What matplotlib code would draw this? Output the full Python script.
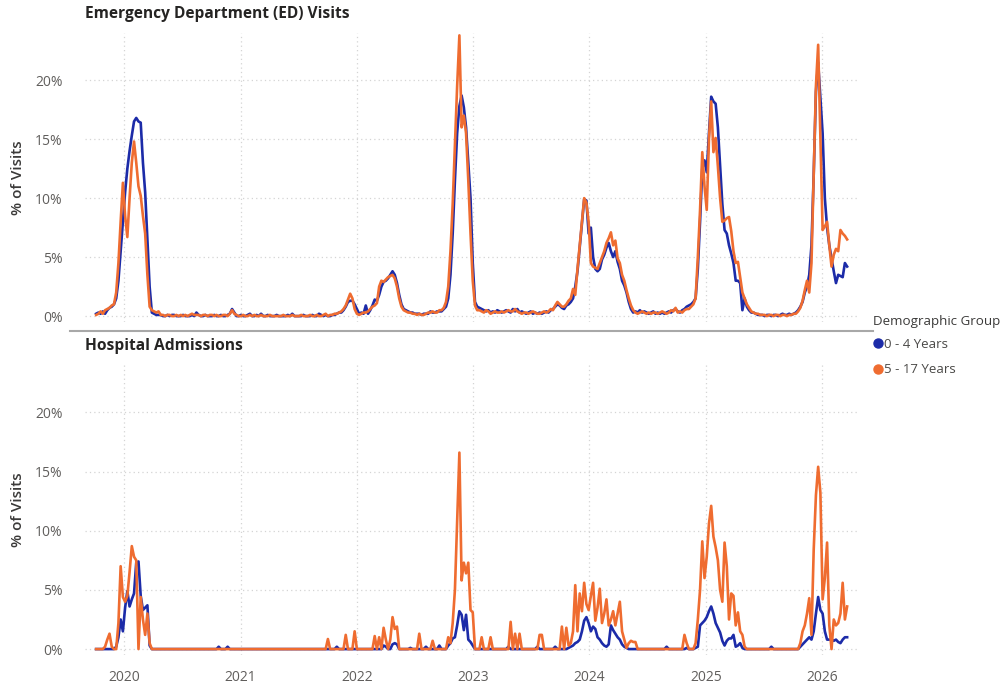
import matplotlib
matplotlib.use("Agg")
import matplotlib.pyplot as plt
from matplotlib.lines import Line2D
import pandas as pd

plt.rcParams['font.family'] = ['Open Sans', 'DejaVu Sans']

# ---------------- data (weekly, % of visits) ----------------
FIRST_WEEK = "2019-10-05"
years = [2020, 2021, 2022, 2023, 2024, 2025, 2026]
y_ticks = [0, 5, 10, 15, 20]
y_tick_labels = ["0%", "5%", "10%", "15%", "20%"]
groups = ["0 - 4 Years", "5 - 17 Years"]

ed_0_4 = [
    0.2, 0.3, 0.2, 0.4, 0.2, 0.5, 0.7, 0.8, 1.0, 1.5, 3.0, 5.5, 8.0, 10.5, 12.5, 14.0, 15.3, 16.5, 16.8, 16.5, 16.4, 13.0, 10.5, 6.5, 2.5, 0.3,
    0.2, 0.1, 0.1, 0.1, 0.0, 0.0, 0.1, 0.0, 0.1, 0.1, 0.0, 0.0, 0.0, 0.1, 0.0, 0.0, 0.0, 0.1, 0.0, 0.3, 0.1, 0.0, 0.0, 0.1, 0.0, 0.0,
    0.0, 0.1, 0.0, 0.0, 0.1, 0.0, 0.0, 0.1, 0.2, 0.6, 0.3, 0.0, 0.0, 0.1, 0.0, 0.0, 0.1, 0.2, 0.0, 0.0, 0.1, 0.0,
    0.2, 0.0, 0.0, 0.1, 0.0, 0.0, 0.0, 0.1, 0.0, 0.0, 0.0, 0.0, 0.1, 0.0, 0.2, 0.0, 0.0, 0.0, 0.0, 0.1,
    0.0, 0.0, 0.0, 0.1, 0.0, 0.0, 0.2, 0.1, 0.0, 0.1,
    0.0, 0.0, 0.1, 0.1, 0.2, 0.3, 0.3, 0.5, 0.8, 1.2, 1.3, 1.3, 1.0, 0.6, 0.2, 0.3, 0.2, 0.9, 0.2, 0.5,
    0.9, 1.4, 1.3, 1.8, 2.5, 2.9, 3.0, 3.2, 3.5, 3.8, 3.5, 2.8, 1.8, 1.0, 0.6, 0.5, 0.4, 0.3, 0.3, 0.2,
    0.2, 0.2, 0.1, 0.2, 0.2, 0.2, 0.4, 0.3, 0.3, 0.4, 0.4, 0.4,
    0.6, 0.8, 1.5, 3.5, 7.0, 11.5, 15.5, 17.8, 18.7, 17.7, 16.0, 13.0, 10.0, 4.5, 1.2, 0.8,
    0.7, 0.6, 0.5, 0.4, 0.5, 0.3, 0.4, 0.3, 0.5, 0.4, 0.3, 0.4, 0.5, 0.4, 0.3, 0.6, 0.4, 0.6, 0.3, 0.4,
    0.3, 0.2, 0.3, 0.4, 0.2, 0.3, 0.2, 0.3, 0.2, 0.3, 0.4, 0.3, 0.5, 0.6, 0.8, 1.0,
    0.9, 0.7, 0.6, 0.9, 1.0, 1.2, 1.5, 2.5, 3.8, 5.8, 7.8, 9.9, 9.8, 7.0, 7.5, 5.0, 4.0, 3.8, 4.0, 4.8,
    5.2, 5.8, 6.2, 5.5, 5.0, 5.5, 4.6, 4.0, 3.0, 2.6, 2.0, 1.2, 0.6, 0.3,
    0.4, 0.3, 0.5, 0.3, 0.4, 0.3, 0.2, 0.3, 0.4, 0.2, 0.3, 0.2, 0.3, 0.2, 0.3, 0.4, 0.3, 0.5, 0.6,
    0.4, 0.3, 0.5, 0.6, 0.8, 0.9, 1.0, 1.2, 1.5, 4.0,
    8.0, 12.5, 13.2, 12.2, 15.5, 18.6, 18.2, 18.0, 16.0, 12.7, 9.5, 7.3, 7.0, 6.0, 5.3, 4.5, 3.0, 3.0, 2.8, 0.5,
    1.5, 0.8, 0.5, 0.3,
    0.3, 0.2, 0.1, 0.1, 0.1, 0.0, 0.1, 0.1, 0.0, 0.1, 0.1, 0.0, 0.1, 0.2, 0.1, 0.1, 0.2, 0.1, 0.2,
    0.3, 0.5, 0.8, 1.2, 2.0, 2.5, 3.5, 6.0, 12.0, 19.0, 21.5, 18.5, 15.5, 10.0, 7.5, 6.0, 4.9, 3.8, 2.8, 3.5,
    3.4, 3.3, 4.5, 4.2,
]

ed_5_17 = [
    0.1, 0.2, 0.4, 0.2, 0.5, 0.6, 0.7, 0.9, 1.0, 2.0, 4.5, 8.0, 11.3, 8.5, 6.7, 10.0, 13.0, 14.8, 13.0, 11.0, 10.2, 8.5, 7.0, 3.5, 0.8, 0.5,
    0.4, 0.3, 0.4, 0.1, 0.1, 0.0, 0.1, 0.1, 0.0, 0.0, 0.1, 0.0, 0.1, 0.0, 0.1, 0.0, 0.1, 0.2, 0.1, 0.1, 0.1, 0.0, 0.1, 0.1, 0.0, 0.1,
    0.1, 0.0, 0.1, 0.0, 0.0, 0.1, 0.1, 0.0, 0.2, 0.5, 0.2, 0.1, 0.0, 0.0, 0.1, 0.0, 0.0, 0.1, 0.0, 0.1, 0.0, 0.0,
    0.1, 0.0, 0.0, 0.0, 0.1, 0.0, 0.0, 0.0, 0.0, 0.0, 0.1, 0.0, 0.0, 0.0, 0.1, 0.0, 0.0, 0.0, 0.1, 0.0,
    0.0, 0.0, 0.1, 0.0, 0.0, 0.1, 0.0, 0.0, 0.1, 0.2,
    0.0, 0.1, 0.1, 0.2, 0.2, 0.3, 0.4, 0.6, 0.9, 1.4, 1.9, 1.5, 0.6, 0.2, 0.1, 0.2, 0.3, 0.3, 0.4, 0.6,
    0.8, 0.9, 1.1, 2.5, 3.0, 2.9, 3.1, 3.3, 3.4, 3.5, 3.2, 2.5, 1.5, 0.8, 0.5, 0.4, 0.3, 0.3, 0.2, 0.2,
    0.1, 0.2, 0.1, 0.1, 0.2, 0.3, 0.3, 0.4, 0.3, 0.3, 0.5, 0.5,
    0.7, 1.2, 2.5, 5.5, 9.5, 14.5, 19.5, 23.8, 16.0, 17.0, 15.5, 11.5, 7.0, 3.0, 0.9, 0.5,
    0.5, 0.4, 0.3, 0.5, 0.4, 0.2, 0.3, 0.4, 0.3, 0.3, 0.4, 0.3, 0.4, 0.5, 0.4, 0.4, 0.6, 0.4, 0.3, 0.2,
    0.3, 0.3, 0.2, 0.3, 0.4, 0.3, 0.2, 0.2, 0.3, 0.4, 0.3, 0.4, 0.6, 0.5, 0.9, 1.2,
    1.0, 0.8, 0.8, 1.0, 1.3, 1.5, 2.3, 1.8, 4.0, 6.0, 8.0, 10.0, 9.6, 8.0, 4.5, 4.2, 4.1, 4.0, 4.5, 5.0,
    5.5, 6.2, 6.6, 7.1, 6.0, 6.4, 4.9, 4.5, 3.5, 3.0, 2.2, 1.5, 0.9, 0.5,
    0.3, 0.2, 0.3, 0.4, 0.3, 0.2, 0.3, 0.2, 0.3, 0.3, 0.2, 0.3, 0.4, 0.3, 0.2, 0.3, 0.5, 0.4, 0.7,
    0.3, 0.4, 0.3, 0.5, 0.6, 0.6, 0.8, 1.0, 1.5, 5.0,
    9.0, 13.9, 11.0, 9.0, 15.0, 18.2, 13.9, 15.1, 12.7, 10.0, 8.0, 8.1, 8.3, 8.4, 7.2, 5.5, 4.5, 4.6, 3.3, 2.0,
    1.5, 1.0, 0.7, 0.4,
    0.3, 0.2, 0.2, 0.1, 0.1, 0.1, 0.0, 0.1, 0.1, 0.0, 0.1, 0.1, 0.0, 0.1, 0.1, 0.0, 0.1, 0.1, 0.2,
    0.2, 0.4, 0.7, 1.3, 2.2, 3.0, 2.0, 4.5, 12.0, 19.5, 23.0, 15.0, 7.3, 7.6, 8.0, 6.0, 4.2, 5.2, 5.7, 5.5,
    7.3, 7.0, 6.8, 6.5,
]

ha_0_4 = [
    0, 0, 0, 0, 0, 0, 0, 0, 0, 0.2, 1.0, 2.5, 1.5, 3.5, 4.9, 3.6, 4.2, 4.7, 7.3, 7.4, 4.5, 3.3, 3.5, 3.7, 0.3, 0,
    0, 0, 0, 0, 0, 0, 0, 0, 0, 0, 0, 0, 0, 0, 0, 0, 0, 0, 0, 0, 0, 0, 0, 0, 0, 0,
    0, 0, 0, 0.2, 0, 0, 0, 0.2, 0, 0, 0, 0, 0, 0, 0, 0, 0, 0, 0, 0, 0, 0,
    0, 0, 0, 0, 0, 0, 0, 0, 0, 0, 0, 0, 0, 0, 0, 0, 0, 0, 0, 0,
    0, 0, 0, 0, 0, 0, 0, 0, 0, 0,
    0, 0, 0, 0, 0.2, 0, 0, 0, 0, 0, 0, 0, 0, 0, 0, 0, 0, 0, 0, 0,
    0, 0, 0, 0, 0, 0.3, 0.2, 0, 0, 0.4, 0.5, 0.4, 0, 0, 0, 0, 0, 0.1, 0, 0,
    0, 0, 0, 0, 0.2, 0, 0, 0, 0, 0, 0.3, 0,
    0, 0, 0.3, 0.5, 0.9, 1.0, 2.0, 3.2, 2.9, 1.6, 2.9, 0.8, 0.6, 0.3, 0, 0,
    0, 0, 0, 0, 0, 0, 0, 0, 0, 0, 0, 0, 0, 0.2, 0, 0, 0, 0, 0, 0,
    0, 0, 0, 0, 0, 0, 0.2, 0, 0, 0, 0, 0, 0, 0, 0.2, 0,
    0, 0, 0, 0, 0.1, 0.2, 0.3, 0.5, 0.6, 0.8, 1.5, 2.4, 2.7, 2.2, 1.5, 1.9, 1.7, 1.0, 0.8, 0.5,
    0.3, 0.2, 0.4, 2.0, 1.6, 1.3, 1.0, 0.8, 0.4, 0.2, 0.1, 0, 0, 0, 0, 0,
    0, 0, 0, 0, 0, 0, 0, 0, 0, 0, 0, 0, 0.2, 0, 0, 0, 0,
    0, 0, 0, 0, 0.1, 0, 0,
    0, 0.1, 0.2, 2.0, 2.2, 2.4, 2.7, 3.2, 3.6, 3.0, 2.2, 1.8, 1.4, 0.7, 0.3, 0.7, 0.9, 0.9, 1.2, 0.2,
    0.3, 0.5, 0.1, 0, 0,
    0, 0, 0, 0, 0, 0, 0, 0, 0, 0, 0.2, 0, 0, 0, 0, 0, 0, 0, 0, 0, 0,
    0, 0, 0.2, 0.4, 0.6, 0.8, 1.0, 0.8, 1.5, 3.0, 4.4, 3.3, 3.0, 1.5, 0.8, 0.8, 0.8, 0.7, 0.8, 0.6,
    0.5, 0.8, 1.0, 1.0,
]

ha_5_17 = [
    0, 0, 0, 0, 0.2, 0.8, 1.3, 0.2, 0, 0, 2.2, 7.0, 4.4, 4.0, 4.5, 6.5, 8.7, 7.8, 7.5, 0.0, 4.4, 2.5, 1.2, 3.0, 0.5, 0,
    0, 0, 0, 0, 0, 0, 0, 0, 0, 0, 0, 0, 0, 0, 0, 0, 0, 0, 0, 0, 0, 0, 0, 0, 0, 0,
    0, 0, 0, 0, 0, 0, 0, 0, 0, 0, 0, 0, 0, 0, 0, 0, 0, 0, 0, 0, 0, 0,
    0, 0, 0, 0, 0, 0, 0, 0, 0, 0, 0, 0, 0, 0, 0, 0, 0, 0, 0, 0,
    0, 0, 0, 0, 0, 0, 0, 0, 0, 0,
    0.85, 0, 0, 0, 0, 0, 0, 0, 1.2, 0, 0, 0, 1.5, 0, 0, 0, 0, 0, 0, 0,
    0, 1.1, 0, 1.0, 0, 1.8, 0.8, 0, 0.8, 2.7, 1.7, 1.9, 0, 0, 0, 0, 0, 0, 0, 0,
    0, 1.3, 0, 0, 0, 0, 0, 0.7, 0, 0, 0, 0,
    0, 0, 1.0, 0.5, 2.2, 5.0, 10.7, 16.6, 5.8, 7.3, 6.4, 7.3, 3.3, 3.1, 0, 0,
    0, 1.0, 0, 0, 0, 1.0, 0, 0, 0, 0, 0, 0, 0, 0, 2.3, 0, 1.3, 0, 1.3, 0,
    0, 0, 0, 0, 0, 0, 0, 1.2, 1.2, 0, 0, 0, 0, 0, 0, 0,
    0, 1.9, 0, 1.8, 0.3, 0.5, 1.5, 5.4, 1.5, 4.7, 3.2, 5.6, 3.8, 3.3, 4.5, 5.6, 2.4, 3.5, 5.1, 2.2,
    3.0, 4.2, 2.0, 2.5, 3.2, 2.0, 3.0, 4.0, 1.5, 0.8, 0.1, 0.5, 0.7, 0.6, 0.6, 0,
    0, 0, 0, 0, 0, 0, 0, 0, 0, 0, 0, 0, 0, 0, 0, 0, 0,
    0, 0, 0, 1.2, 0.5, 0, 0,
    0, 0.5, 2.5, 5.0, 9.1, 6.0, 7.8, 10.6, 12.1, 9.5, 8.6, 7.5, 5.0, 4.0, 9.0, 7.0, 2.5, 4.7, 4.5, 2.0,
    3.1, 1.5, 1.2, 0.2, 0,
    0, 0, 0, 0, 0, 0, 0, 0, 0, 0, 0, 0, 0, 0, 0, 0, 0, 0, 0, 0, 0,
    0, 0, 0.5, 1.5, 2.0, 3.0, 4.3, 1.2, 8.4, 13.0, 15.4, 13.2, 4.2, 6.0, 9.0, 2.0, 0.0, 2.5, 2.0, 2.2,
    3.0, 5.6, 2.5, 3.6,
]

# ---------------- styling ----------------
BLUE = "#1C2BA8"
ORANGE = "#EF6C30"
GRID = "#D4D4D4"
TICK = "#605E5C"
W, H = 1008, 685

weeks = pd.date_range(FIRST_WEEK, periods=len(ed_0_4), freq="7D")

fig = plt.figure(figsize=(W / 100, H / 100), dpi=100)
ax_top = fig.add_axes([85 / W, 1 - 322 / H, 772 / W, 289 / H])
ax_bot = fig.add_axes([85 / W, 1 - 655 / H, 772 / W, 290 / H])

panels = [
    (ax_top, ed_0_4, ed_5_17, "Emergency Department (ED) Visits", 14),
    (ax_bot, ha_0_4, ha_5_17, "Hospital Admissions", 346),
]

for ax, s_young, s_old, title, title_y in panels:
    ax.plot(weeks, s_young, color=BLUE, lw=1.9, solid_joinstyle="round", zorder=3)
    ax.plot(weeks, s_old, color=ORANGE, lw=1.9, solid_joinstyle="round", zorder=4)
    ax.set_ylim(-0.5, 24.0)
    ax.set_xlim(pd.Timestamp("2019-08-31"), pd.Timestamp("2026-04-21"))
    ax.set_yticks(y_ticks)
    ax.set_yticklabels(y_tick_labels)
    ax.set_xticks([pd.Timestamp(f"{y}-01-01") for y in years])
    ax.set_xticklabels([str(y) for y in years])
    ax.grid(True, linestyle=(0, (1, 2.5)), color=GRID, lw=0.9, zorder=0)
    for sp in ax.spines.values():
        sp.set_visible(False)
    ax.tick_params(axis="both", length=0, labelsize=10, labelcolor=TICK)
    ax.tick_params(axis="y", pad=16)
    ax.tick_params(axis="x", pad=11)
    ax.set_ylabel("% of Visits", fontsize=11, color="#3B3A39", fontweight="semibold")
    ax.yaxis.set_label_coords((25 - 85) / 772, 0.5)
    fig.text(85 / W, 1 - title_y / H, title, fontsize=11.2, fontweight="bold",
             color="#252423", ha="left", va="center")

ax_top.tick_params(axis="x", labelbottom=False)

# separator line between panels
fig.add_artist(Line2D([70 / W, 873 / W], [1 - 331 / H, 1 - 331 / H],
                      color="#A8A8A8", lw=1.5, transform=fig.transFigure))

# legend
handles = [Line2D([], [], ls="none", marker="o", markersize=6.5, color=c) for c in (BLUE, ORANGE)]
leg = fig.legend(handles, groups, title="Demographic Group", loc="upper left",
                 bbox_to_anchor=(873 / W, 1 - 315 / H), frameon=False, fontsize=9.5,
                 title_fontsize=9.6, handletextpad=0.05, handlelength=0.8,
                 labelspacing=0.95, borderpad=0, borderaxespad=0, alignment="left")
for t in leg.get_texts():
    t.set_color("#4A4947")
leg.get_title().set_color("#3B3A39")
leg._legend_box.sep = 7

fig.savefig("out.png", dpi=100)
